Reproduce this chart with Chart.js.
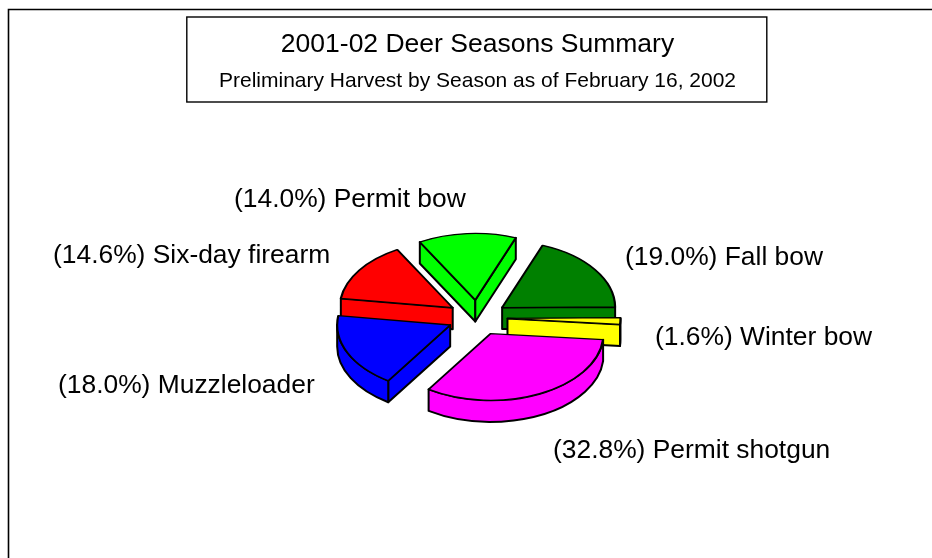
<!DOCTYPE html>
<html><head><meta charset="utf-8">
<style>html,body{margin:0;padding:0;background:#fff}#w{width:932px;height:558px}</style>
<script src="https://cdn.jsdelivr.net/npm/chart.js@4"></script></head>
<body><div id="w"><canvas id="c" width="932" height="558"></canvas></div>
<script>
const categories = ["Fall bow","Winter bow","Permit shotgun","Muzzleloader","Six-day firearm","Permit bow"];
const shares = [19.0,1.6,32.8,18.0,14.6,14.0];
const sliceColors = ["#008000","#ffff00","#ff00ff","#0000ff","#ff0000","#00ff00"];
const titleText = "2001-02 Deer Seasons Summary";
const subtitleText = "Preliminary Harvest by Season as of February 16, 2002";
const labelAnchors = [[625,258],[655,338],[553,451],[58,386],[53,256],[234,200]];
const paintOrder = [5,4,0,1,3,2];
const SQUASH = 0.59, DEPTH = 21.5, EXPLODE = 30, FONT = '"Liberation Sans", Arial, sans-serif';

const pie3d = {
  id:'pie3d',
  beforeDraw(chart){
    const c = chart.ctx; c.save();
    c.fillStyle='#fff'; c.fillRect(0,0,932,558);
    c.strokeStyle='#000'; c.lineWidth=1.6;
    c.beginPath(); c.moveTo(8.5,558); c.lineTo(8.5,9.5); c.lineTo(932,9.5); c.stroke();
    c.lineWidth=1.4;
    c.strokeRect(186.8,17,580,85);
    c.restore();
  },
  beforeDatasetsDraw(chart){
    const c = chart.ctx, arcs = chart.getDatasetMeta(0).data;
    paintOrder.forEach(i=>{
      const el = arcs[i], {x,y,startAngle:a,endAngle:b,outerRadius:r,options:o} = el;
      const mid=(a+b)/2;
      const ax = x+Math.cos(mid)*EXPLODE, ay = y+Math.sin(mid)*EXPLODE*SQUASH;
      const px = t=>ax+Math.cos(t)*r, py = t=>ay+Math.sin(t)*r*SQUASH;
      c.save();
      c.fillStyle=o.backgroundColor; c.strokeStyle='#000'; c.lineWidth=2; c.lineJoin='round';
      const wall = t=>{c.beginPath();c.moveTo(ax,ay);c.lineTo(px(t),py(t));c.lineTo(px(t),py(t)+DEPTH);c.lineTo(ax,ay+DEPTH);c.closePath();c.fill();c.stroke();};
      if(Math.cos(a)<0) wall(a);
      if(Math.cos(b)>0) wall(b);
      // rim: portion of the slice's arc that faces the viewer
      for(const k of [-2,0,2]){
        const s=Math.max(a,k*Math.PI), e=Math.min(b,(k+1)*Math.PI);
        if(e>s){
          c.beginPath();
          c.ellipse(ax,ay,r,r*SQUASH,0,s,e);
          c.lineTo(px(e),py(e)+DEPTH);
          c.ellipse(ax,ay+DEPTH,r,r*SQUASH,0,e,s,true);
          c.closePath();c.fill();c.stroke();
        }
      }
      c.restore();
      c.save();
      c.translate(Math.cos(mid)*EXPLODE,Math.sin(mid)*EXPLODE*SQUASH);
      c.translate(0,y);c.scale(1,SQUASH);c.translate(0,-y);
      el.draw(c);
      c.restore();
    });
    return false;
  },
  afterDraw(chart){
    const c = chart.ctx; c.save();
    c.fillStyle='#000'; c.font='26.4px '+FONT; c.textAlign='left'; c.textBaseline='middle';
    categories.forEach((n,i)=>c.fillText(`(${shares[i].toFixed(1)}%) ${n}`,labelAnchors[i][0],labelAnchors[i][1]));
    c.restore();
  }
};
new Chart(document.getElementById('c'),{
  type:'pie',
  data:{labels:categories,datasets:[{data:shares,backgroundColor:sliceColors,borderColor:'#000',borderWidth:2.2,borderJoinStyle:'round'}]},
  options:{
    responsive:false,animation:false,events:[],radius:113,rotation:21,
    layout:{padding:{left:23,right:0,top:0,bottom:16.6}},
    plugins:{
      legend:{display:false},tooltip:{enabled:false},
      title:{display:true,text:titleText,color:'#000',font:{family:FONT,size:26.5,weight:'normal',lineHeight:1.2},padding:{top:29,bottom:0}},
      subtitle:{display:true,text:subtitleText,color:'#000',font:{family:FONT,size:21,weight:'normal',lineHeight:1.2},padding:{top:8,bottom:0}}
    }
  },
  plugins:[pie3d]
});
</script></body></html>
